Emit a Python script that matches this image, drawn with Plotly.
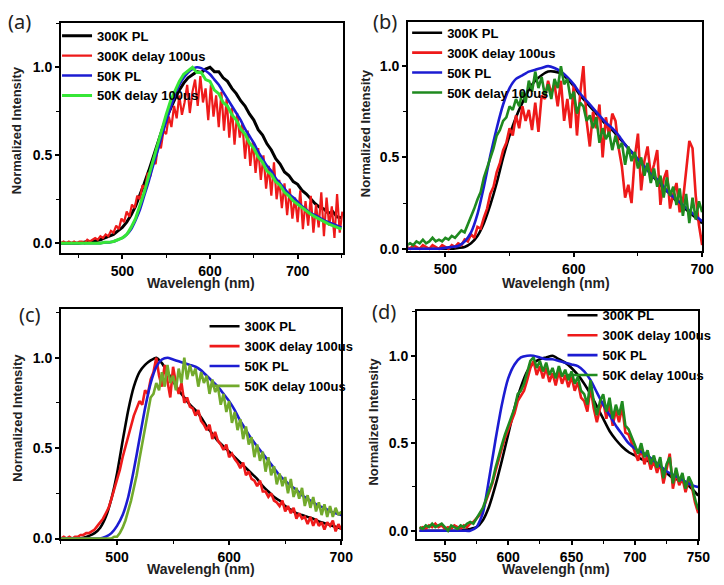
import numpy as np
import plotly.graph_objects as go

# ---------------- data: panel (a) ----------------
a_x3 = list(range(430, 752, 3))          # 430 .. 751
a_x5 = list(range(430, 751, 5))          # 430 .. 750
a_red = [
    0.00, 0.01, 0.00, 0.01, 0.00, 0.01, 0.00, 0.01, 0.01, 0.00,
    0.02, 0.01, 0.02, 0.03, 0.02, 0.04, 0.03, 0.05, 0.04, 0.07,
    0.06, 0.10, 0.08, 0.14, 0.12, 0.18, 0.15, 0.22, 0.20, 0.27,
    0.25, 0.33, 0.31, 0.40, 0.38, 0.47, 0.45, 0.57, 0.54, 0.64,
    0.62, 0.72, 0.66, 0.78, 0.71, 0.84, 0.73, 0.80, 0.90, 0.74,
    0.86, 0.93, 0.78, 0.95, 0.80, 0.88, 0.70, 0.90, 0.72, 0.84,
    0.66, 0.86, 0.64, 0.82, 0.60, 0.77, 0.56, 0.74, 0.60, 0.68,
    0.48, 0.64, 0.44, 0.58, 0.40, 0.54, 0.36, 0.50, 0.31, 0.44,
    0.27, 0.46, 0.25, 0.36, 0.20, 0.34, 0.16, 0.31, 0.14, 0.26,
    0.12, 0.30, 0.08, 0.24, 0.10, 0.27, 0.06, 0.22, 0.09, 0.29,
    0.04, 0.26, 0.10, 0.21, 0.03, 0.28, 0.06, 0.18,
]
a_black = [
    0.00, 0.00, 0.00, 0.00, 0.00, 0.005, 0.01, 0.01, 0.015, 0.02,
    0.03, 0.04, 0.05, 0.07, 0.09, 0.12, 0.16, 0.21, 0.27, 0.34,
    0.41, 0.49, 0.57, 0.64, 0.71, 0.77, 0.82, 0.87, 0.91, 0.94,
    0.96, 0.975, 0.97, 0.99, 1.00, 0.975, 0.975, 0.94, 0.92, 0.88,
    0.85, 0.81, 0.78, 0.735, 0.70, 0.645, 0.615, 0.565, 0.53, 0.48,
    0.45, 0.405, 0.385, 0.35, 0.335, 0.30, 0.28, 0.25, 0.225, 0.205,
    0.195, 0.17, 0.18, 0.15, 0.145,
]
a_blue = [
    0.00, 0.00, 0.00, 0.00, 0.00, 0.00, 0.00, 0.00, 0.00, 0.00,
    0.005, 0.005, 0.01, 0.02, 0.03, 0.05, 0.08, 0.13, 0.19, 0.27,
    0.35, 0.44, 0.52, 0.61, 0.69, 0.77, 0.84, 0.90, 0.94, 0.97,
    0.99, 1.00, 0.995, 0.98, 0.96, 0.93, 0.90, 0.86, 0.82, 0.78,
    0.74, 0.70, 0.65, 0.61, 0.57, 0.52, 0.48, 0.44, 0.41, 0.37,
    0.34, 0.31, 0.28, 0.26, 0.235, 0.21, 0.19, 0.17, 0.16, 0.145,
    0.13, 0.12, 0.11, 0.10, 0.09,
]
a_green = [
    0.00, 0.00, 0.00, 0.00, 0.00, 0.00, 0.00, 0.00, 0.00, 0.00,
    0.005, 0.005, 0.01, 0.02, 0.03, 0.05, 0.09, 0.14, 0.21, 0.29,
    0.38, 0.47, 0.56, 0.65, 0.73, 0.81, 0.87, 0.92, 0.96, 0.98,
    1.00, 0.97, 0.97, 0.93, 0.92, 0.87, 0.85, 0.80, 0.78, 0.73,
    0.70, 0.65, 0.62, 0.57, 0.54, 0.49, 0.46, 0.41, 0.39, 0.35,
    0.33, 0.29, 0.27, 0.24, 0.22, 0.20, 0.18, 0.165, 0.15, 0.135,
    0.12, 0.11, 0.10, 0.09, 0.08,
]

# ---------------- data: panel (b) ----------------
b_x5 = list(range(470, 701, 5))          # 470 .. 700
b_x25 = list(np.arange(470, 700.01, 2.5))
b_black = [
    0, 0, 0, 0, 0, 0, 0, 0,
    0.005, 0.01, 0.03, 0.07, 0.14, 0.24, 0.36, 0.50, 0.62, 0.72,
    0.80, 0.87, 0.92, 0.95, 0.97, 0.97, 0.96, 0.93, 0.89, 0.84,
    0.80, 0.76, 0.72, 0.68, 0.65, 0.61, 0.57, 0.53, 0.49, 0.45,
    0.41, 0.37, 0.33, 0.30, 0.26, 0.23, 0.20, 0.17, 0.14,
]
b_blue = [
    0, 0, 0, 0, 0, 0, 0.005, 0.01,
    0.015, 0.04, 0.09, 0.19, 0.34, 0.51, 0.66, 0.79, 0.88, 0.93,
    0.95, 0.97, 0.98, 0.99, 1.00, 0.99, 0.97, 0.94, 0.90, 0.85,
    0.81, 0.77, 0.73, 0.69, 0.66, 0.62, 0.57, 0.53, 0.49, 0.45,
    0.41, 0.38, 0.34, 0.30, 0.27, 0.24, 0.21, 0.18, 0.15,
]
b_red = [
    0.01, 0.00, 0.02, 0.01, 0.00, 0.02, 0.01, 0.00, 0.02, 0.01,
    0.00, 0.02, 0.01, 0.00, 0.02, 0.01, 0.03, 0.02, 0.05, 0.04,
    0.08, 0.06, 0.12, 0.11, 0.17, 0.22, 0.30, 0.34, 0.42, 0.47,
    0.54, 0.58, 0.66, 0.62, 0.73, 0.66, 0.78, 0.70, 0.76, 0.65,
    0.80, 0.64, 0.84, 0.82, 0.92, 0.85, 0.90, 0.78, 0.92, 0.70,
    0.82, 0.66, 0.90, 0.62, 0.85, 1.00, 0.70, 0.56, 0.75, 0.66,
    0.79, 0.50, 0.72, 0.62, 0.74, 0.70, 0.55, 0.45, 0.28, 0.35,
    0.25, 0.50, 0.63, 0.32, 0.48, 0.56, 0.40, 0.46, 0.54, 0.24,
    0.38, 0.43, 0.22, 0.30, 0.36, 0.20, 0.26, 0.44, 0.59, 0.55,
    0.29, 0.13, 0.02,
]
b_green = [
    0.02, 0.03, 0.02, 0.04, 0.03, 0.05, 0.03, 0.04, 0.06, 0.04,
    0.05, 0.04, 0.06, 0.05, 0.07, 0.06, 0.08, 0.10, 0.09, 0.13,
    0.17, 0.22, 0.27, 0.31, 0.39, 0.44, 0.50, 0.55, 0.62, 0.65,
    0.70, 0.72, 0.78, 0.76, 0.82, 0.78, 0.86, 0.80, 0.92, 0.86,
    0.97, 0.88, 0.94, 0.84, 0.90, 0.82, 0.93, 0.88, 1.00, 0.90,
    0.93, 0.82, 0.86, 0.74, 0.80, 0.78, 0.70, 0.73, 0.66, 0.72,
    0.58, 0.66, 0.60, 0.64, 0.54, 0.62, 0.55, 0.58, 0.46, 0.56,
    0.48, 0.53, 0.44, 0.50, 0.40, 0.47, 0.36, 0.44, 0.34, 0.40,
    0.28, 0.39, 0.29, 0.34, 0.24, 0.33, 0.18, 0.30, 0.14, 0.28,
    0.16, 0.26, 0.20,
]

# ---------------- data: panel (c) ----------------
c_x5 = list(range(450, 701, 5))          # 450 .. 700
c_x25 = list(np.arange(450, 700.01, 2.5))
c_black = [
    0, 0, 0, 0, 0.005,
    0.015, 0.03, 0.06, 0.12, 0.22, 0.36, 0.54, 0.71, 0.84, 0.92,
    0.96, 0.985, 1.00, 0.97, 0.92, 0.87, 0.82, 0.78, 0.74, 0.71,
    0.67, 0.62, 0.58, 0.54, 0.51, 0.48, 0.45, 0.42, 0.39, 0.36,
    0.33, 0.29, 0.26, 0.23, 0.21, 0.18, 0.16, 0.14, 0.13, 0.12,
    0.11, 0.095, 0.085, 0.075, 0.065, 0.055,
]
c_blue = [
    0, 0, 0, 0, 0,
    0, 0, 0, 0.01, 0.03, 0.07, 0.13, 0.23, 0.38, 0.55,
    0.72, 0.86, 0.95, 0.99, 1.00, 0.99, 0.98, 0.97, 0.96, 0.95,
    0.93, 0.90, 0.87, 0.84, 0.80, 0.76, 0.71, 0.65, 0.60, 0.55,
    0.51, 0.47, 0.43, 0.39, 0.35, 0.32, 0.29, 0.27, 0.24, 0.22,
    0.20, 0.18, 0.17, 0.15, 0.14, 0.13,
]
c_red = [
    0.00, 0.01, 0.00, 0.01, 0.00, 0.01, 0.01, 0.02, 0.02, 0.03,
    0.03, 0.04, 0.05, 0.07, 0.09, 0.11, 0.14, 0.17, 0.22, 0.27,
    0.32, 0.38, 0.45, 0.51, 0.57, 0.62, 0.68, 0.72, 0.76, 0.74,
    0.82, 0.80, 0.88, 0.92, 1.00, 0.90, 0.84, 0.96, 0.86, 0.78,
    0.95, 0.86, 0.80, 0.86, 0.75, 0.78, 0.73, 0.72, 0.68, 0.71,
    0.65, 0.63, 0.60, 0.63, 0.55, 0.59, 0.54, 0.52, 0.49, 0.52,
    0.45, 0.47, 0.44, 0.42, 0.39, 0.42, 0.35, 0.37, 0.33, 0.32,
    0.29, 0.32, 0.26, 0.26, 0.23, 0.25, 0.21, 0.20, 0.18, 0.21,
    0.15, 0.18, 0.14, 0.17, 0.11, 0.14, 0.11, 0.12, 0.08, 0.12,
    0.07, 0.11, 0.07, 0.09, 0.05, 0.09, 0.07, 0.10, 0.04, 0.08,
    0.05,
]
c_green = [
    0.00, 0.00, 0.00, 0.00, 0.00, 0.00, 0.00, 0.00, 0.00, 0.00,
    0.00, 0.00, 0.00, 0.00, 0.00, 0.00, 0.00, 0.00, 0.00, 0.01,
    0.01, 0.03, 0.06, 0.10, 0.15, 0.21, 0.28, 0.35, 0.44, 0.52,
    0.62, 0.70, 0.78, 0.80, 0.86, 0.82, 0.92, 0.84, 0.96, 0.86,
    0.90, 0.82, 0.94, 0.86, 1.00, 0.88, 0.96, 0.90, 0.94, 0.84,
    0.92, 0.86, 0.90, 0.80, 0.88, 0.81, 0.84, 0.74, 0.80, 0.70,
    0.76, 0.64, 0.70, 0.60, 0.66, 0.55, 0.62, 0.52, 0.56, 0.45,
    0.52, 0.43, 0.48, 0.37, 0.45, 0.35, 0.40, 0.30, 0.36, 0.29,
    0.34, 0.25, 0.33, 0.23, 0.28, 0.22, 0.28, 0.18, 0.24, 0.17,
    0.23, 0.15, 0.20, 0.13, 0.19, 0.12, 0.18, 0.12, 0.17, 0.13,
    0.15,
]

# ---------------- data: panel (d) ----------------
d_x5 = list(range(530, 751, 5))          # 530 .. 750
d_x25 = list(np.arange(530, 750.01, 2.5))
d_black = [
    0, 0, 0, 0, 0, 0, 0, 0.005, 0.01,
    0.02, 0.06, 0.14, 0.26, 0.40, 0.55, 0.70, 0.82, 0.91, 0.96,
    0.98, 0.99, 1.00, 0.98, 0.96, 0.93, 0.89, 0.84, 0.78, 0.71,
    0.64, 0.57, 0.52, 0.48, 0.45, 0.43, 0.41, 0.40, 0.38, 0.36,
    0.33, 0.30, 0.29, 0.27, 0.24, 0.20,
]
d_blue = [
    0, 0, 0, 0, 0, 0, 0, 0, 0,
    0.02, 0.10, 0.30, 0.52, 0.72, 0.87, 0.95, 0.99, 1.00, 1.00,
    0.99, 0.98, 0.98, 0.97, 0.96, 0.95, 0.94, 0.91, 0.86, 0.79,
    0.72, 0.66, 0.60, 0.55, 0.50, 0.47, 0.45, 0.43, 0.40, 0.37,
    0.34, 0.32, 0.30, 0.28, 0.26, 0.25,
]
d_red = [
    0.01, 0.02, 0.01, 0.03, 0.02, 0.04, 0.02, 0.03, 0.01, 0.02,
    0.01, 0.03, 0.02, 0.01, 0.03, 0.02, 0.04, 0.05, 0.07, 0.09,
    0.12, 0.17, 0.22, 0.27, 0.34, 0.41, 0.47, 0.53, 0.58, 0.62,
    0.67, 0.74, 0.77, 0.80, 0.86, 0.93, 0.97, 0.89, 0.94, 0.87,
    0.93, 0.85, 0.90, 0.83, 0.91, 0.84, 0.89, 0.82, 0.88, 0.80,
    0.85, 0.76, 0.74, 0.68, 0.82, 0.70, 0.62, 0.70, 0.74, 0.64,
    0.72, 0.60, 0.69, 0.62, 0.71, 0.56, 0.55, 0.50, 0.46, 0.40,
    0.47, 0.38, 0.43, 0.35, 0.40, 0.33, 0.39, 0.27, 0.35, 0.44,
    0.24, 0.33, 0.26, 0.30, 0.22, 0.29, 0.25, 0.16, 0.10,
]
d_green = [
    0.02, 0.01, 0.03, 0.02, 0.04, 0.02, 0.03, 0.04, 0.02, 0.00,
    0.03, 0.02, 0.01, 0.03, 0.02, 0.04, 0.05, 0.04, 0.07, 0.10,
    0.13, 0.18, 0.23, 0.28, 0.36, 0.43, 0.49, 0.55, 0.60, 0.64,
    0.70, 0.78, 0.80, 0.84, 0.90, 0.97, 0.99, 0.93, 0.97, 0.91,
    0.96, 0.89, 0.93, 0.87, 0.94, 0.88, 0.92, 0.86, 0.91, 0.84,
    0.88, 0.80, 0.78, 0.72, 0.86, 0.74, 0.66, 0.74, 0.78, 0.68,
    0.76, 0.64, 0.72, 0.66, 0.74, 0.60, 0.58, 0.54, 0.49, 0.44,
    0.50, 0.42, 0.46, 0.38, 0.43, 0.36, 0.42, 0.30, 0.38, 0.42,
    0.27, 0.36, 0.28, 0.33, 0.24, 0.31, 0.27, 0.18, 0.12,
]

series_names = ["300K PL", "300K delay 100us", "50K PL", "50K delay 100us"]
panel_labels = ["(a)", "(b)", "(c)", "(d)"]
x_title = "Wavelengh (nm)"
y_title = "Normalized Intensity"

BLACK = "#000000"
RED = "#ee1a1a"
BLUE = "#1c1cd2"
LIME = "#36e636"
DKGREEN = "#1f8a1f"
OLIVE = "#72aa2c"

W, H = 724, 585
def px(x):
    return x / W
def py(y):
    return 1 - y / H

fig = go.Figure()

panels = [
    dict(xs=(a_x5, a_x3, a_x5, a_x5), ys=(a_black, a_red, a_blue, a_green), g=LIME, ax="", leg="legend",
         smooth=(False, False, True, False), widths=(3, 2.2, 2.6, 3)),
    dict(xs=(b_x5, b_x25, b_x5, b_x25), ys=(b_black, b_red, b_blue, b_green), g=DKGREEN, ax="2", leg="legend2",
         smooth=(True, False, True, False), widths=(2.6, 2.6, 2.6, 2.6)),
    dict(xs=(c_x5, c_x25, c_x5, c_x25), ys=(c_black, c_red, c_blue, c_green), g=OLIVE, ax="3", leg="legend3",
         smooth=(True, False, True, False), widths=(2.6, 2.6, 2.6, 2.6)),
    dict(xs=(d_x5, d_x25, d_x5, d_x25), ys=(d_black, d_red, d_blue, d_green), g=DKGREEN, ax="4", leg="legend4",
         smooth=(True, False, True, False), widths=(2.6, 2.6, 2.6, 2.6)),
]

for p in panels:
    colors = [BLACK, RED, BLUE, p["g"]]
    for i in range(4):
        fig.add_trace(go.Scatter(
            x=p["xs"][i], y=p["ys"][i], mode="lines", name=series_names[i],
            line=dict(color=colors[i], width=p["widths"][i],
                      shape="spline" if p["smooth"][i] else "linear", smoothing=0.6),
            xaxis="x" + p["ax"], yaxis="y" + p["ax"], legend=p["leg"], showlegend=True,
        ))

tickfont = dict(family="Liberation Sans", size=14, color="black", weight="bold")

def xax(domain, rng, dtick, mdtick, anchor):
    return dict(domain=domain, range=rng, anchor=anchor, dtick=dtick, tick0=0,
                showline=True, linecolor="black", linewidth=2, mirror=True,
                ticks="outside", ticklen=4, tickwidth=1.5, tickcolor="black",
                showgrid=False, zeroline=False, tickfont=tickfont,
                minor=dict(dtick=mdtick, tick0=0, ticks="outside", ticklen=3, tickwidth=1.2,
                           tickcolor="black", showgrid=False))

def yax(domain, rng, anchor):
    return dict(domain=domain, range=rng, anchor=anchor, dtick=0.5, tick0=0, tickformat=".1f",
                showline=True, linecolor="black", linewidth=2, mirror=True,
                ticks="outside", ticklen=4, tickwidth=1.5, tickcolor="black",
                showgrid=False, zeroline=False, tickfont=tickfont,
                minor=dict(dtick=0.25, tick0=0, ticks="outside", ticklen=3, tickwidth=1.2,
                           tickcolor="black", showgrid=False))

legfont = dict(family="Liberation Sans", size=13, color="black", weight="bold")
def leg(x, y):
    return dict(x=x, y=y, xanchor="left", yanchor="top", bgcolor="rgba(0,0,0,0)", borderwidth=0,
                font=legfont, tracegroupgap=0, itemwidth=30, traceorder="normal")

fig.update_layout(
    width=W, height=H, margin=dict(l=0, r=0, t=0, b=0),
    paper_bgcolor="white", plot_bgcolor="white",
    xaxis=xax([px(62), px(349)], [430, 752], 100, 50, "y"),
    yaxis=yax([py(256), py(23)], [-0.055, 1.253], "x"),
    xaxis2=xax([px(415), px(714)], [471, 700], 100, 50, "y2"),
    yaxis2=yax([py(254), py(22)], [-0.012, 1.243], "x2"),
    xaxis3=xax([px(62), px(347)], [450, 700], 100, 50, "y3"),
    yaxis3=yax([py(546), py(313)], [-0.005, 1.268], "x3"),
    xaxis4=xax([px(424), px(710)], [528, 750], 50, 25, "y4"),
    yaxis4=yax([py(546), py(315)], [-0.05, 1.254], "x4"),
    legend=leg(px(58), py(21)),
    legend2=leg(px(414), py(18)),
    legend3=leg(px(208), py(315)),
    legend4=leg(px(572), py(304)),
)

ann = []
label_pos = [(20, 22), (391, 22), (30, 318), (390, 315)]
for lab, (lx, ly) in zip(panel_labels, label_pos):
    ann.append(dict(text=lab, x=px(lx), y=py(ly), xref="paper", yref="paper", showarrow=False,
                    xanchor="center", yanchor="middle",
                    font=dict(family="Noto Sans", size=20, color="#222222")))
ytitle_pos = [(17, 132), (372, 135), (18, 423), (380, 427)]
for (tx, ty) in ytitle_pos:
    ann.append(dict(text=y_title, x=px(tx), y=py(ty), xref="paper", yref="paper", showarrow=False,
                    textangle=-90, xanchor="center", yanchor="middle",
                    font=dict(family="Liberation Sans", size=13, color="#222222", weight="bold")))
xtitle_pos = [(204, 286), (565, 286), (204, 576), (565, 576)]
for (tx, ty) in xtitle_pos:
    ann.append(dict(text=x_title, x=px(tx), y=py(ty), xref="paper", yref="paper", showarrow=False,
                    xanchor="center", yanchor="middle",
                    font=dict(family="Liberation Sans", size=14, color="#222222", weight="bold")))
fig.update_layout(annotations=ann)

post = (
    "document.documentElement.style.margin='0px';"
    "document.documentElement.style.overflow='hidden';"
    "document.body.style.margin='0px';"
    "document.body.style.padding='0px';"
    "document.body.style.overflow='hidden';"
)

fig.write_html("out.html", config={"displayModeBar": False}, post_script=post)
